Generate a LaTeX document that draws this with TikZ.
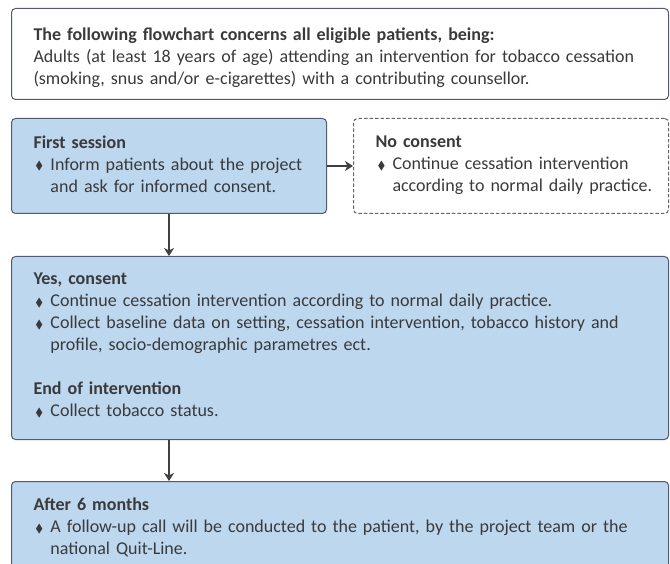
\documentclass[tikz,border=0pt]{standalone}
\usepackage{fontspec}
\setmainfont{Carlito}
\usepackage{amssymb}
\usetikzlibrary{positioning,arrows.meta}

\definecolor{boxblue}{HTML}{BDD7EE}
\definecolor{boxline}{HTML}{4F5B76}
\definecolor{txtgray}{HTML}{3A3A3A}
\definecolor{arrowgray}{HTML}{404040}

\newcommand{\bul}{\makebox[17pt][l]{\hspace{2pt}\raisebox{0.5pt}{\scalebox{0.65}{$\blacklozenge$}}}}
\newcommand{\ind}{\hspace*{17pt}}

\tikzset{
  box/.style={draw=boxline, line width=1pt, rounded corners=4pt, anchor=north west,
              inner xsep=22pt, align=left, text=txtgray, font=\fontsize{18}{22}\selectfont},
  bluebox/.style={box, fill=boxblue},
  dashbox/.style={box, draw=gray!80!black, dash pattern=on 3.5pt off 2pt},
}

\begin{document}
\begin{tikzpicture}[x=1pt,y=1pt,>={Stealth[length=8pt,width=10pt,inset=2.5pt]}]
  \useasboundingbox (0,0) rectangle (670,-564);

  \node[box, text width=613pt, minimum height=91pt, text depth=39pt] (intro) at (11,-8)
    {\textbf{The following flowchart concerns all eligible patients, being:}\\
     Adults (at least 18 years of age) attending an intervention for tobacco cessation\\
     (smoking, snus and/or e-cigarettes) with a contributing counsellor.};
  \node[bluebox, text width=271pt, minimum height=95pt, text depth=48pt, below=18pt of intro.south west, anchor=north west] (first)
    {\textbf{First session}\\
     \bul Inform patients about the project\\
     \ind and ask for informed consent.};
  \node[dashbox, text width=271pt, minimum height=95pt, text depth=48pt, right=26pt of first.north east, anchor=north west] (nocons)
    {\textbf{No consent}\\
     \bul\mbox{Continue cessation intervention}\\
     \ind\mbox{according to normal daily practice.}};
  \node[bluebox, text width=613pt, minimum height=183pt, text depth=138pt, below=42pt of first.south west, anchor=north west] (yes)
    {\textbf{Yes, consent}\\
     \bul Continue cessation intervention according to normal daily practice.\\
     \bul\mbox{Collect baseline data on setting, cessation intervention, tobacco history and}\\
     \ind profile, socio-demographic parametres ect.\\[22pt]
     \textbf{End of intervention}\\
     \bul Collect tobacco status.};
  \node[bluebox, text width=613pt, minimum height=88pt, text depth=42pt, below=41pt of yes.south west, anchor=north west] (after)
    {\textbf{After 6 months}\\
     \bul\mbox{A follow-up call will be conducted to the patient, by the project team or the}\\
     \ind national Quit-Line.};

  \path [->, color=arrowgray, line width=1.3pt]
    (first)       edge (nocons)
    (first.south) edge (first.south |- yes.north)
    (yes.south -| first.south) edge (after.north -| first.south);
\end{tikzpicture}
\end{document}
